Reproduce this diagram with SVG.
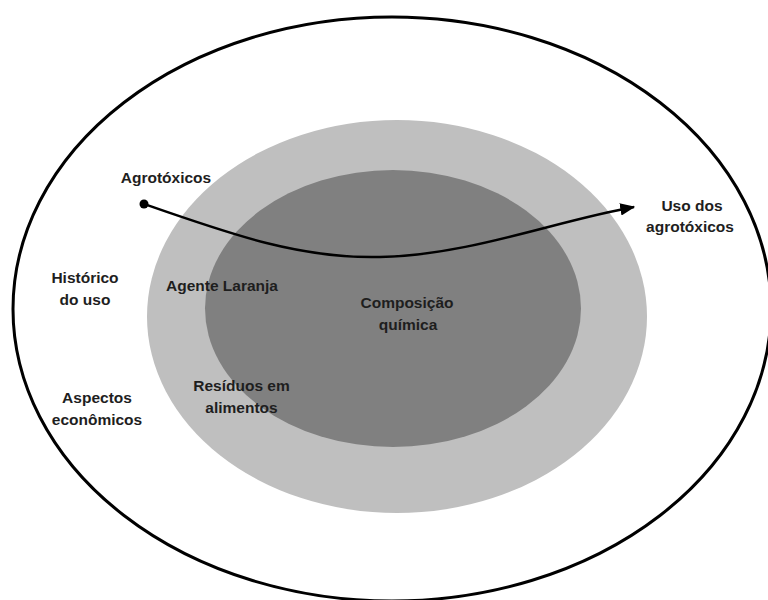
<svg xmlns="http://www.w3.org/2000/svg" width="768" height="600" viewBox="0 0 768 600">
  <style>
    .lbl { font-family: "Liberation Sans", Arial, sans-serif; font-weight: bold; font-size: 15.5px; fill: #1e1e1e; text-anchor: middle; }
    .outer { fill: #ffffff; stroke: #000000; stroke-width: 3; }
    .middle { fill: #bfbfbf; }
    .inner { fill: #808080; }
    .flow { fill: none; stroke: #000000; stroke-width: 2.5; }
  </style>
  <defs>
    <marker id="arrowhead" viewBox="0 0 12 10" refX="11" refY="5" markerWidth="6" markerHeight="5" markerUnits="strokeWidth" orient="auto">
      <path d="M0,0 L12,5 L0,10 z" fill="#000000"/>
    </marker>
  </defs>
  <rect width="768" height="600" fill="#ffffff"/>

  <!-- nested rings, drawn first so every label sits on top -->
  <g id="rings">
    <ellipse id="ring-outer" class="outer" cx="392" cy="309" rx="379" ry="292"/>
    <ellipse id="ring-middle" class="middle" cx="397" cy="316.5" rx="250" ry="196.5"/>
    <ellipse id="ring-core" class="inner" cx="393" cy="308.5" rx="188" ry="138.5"/>
  </g>

  <!-- outer ring labels -->
  <g id="node-historico">
    <text class="lbl" x="85" y="283">Histórico</text>
    <text class="lbl" x="85" y="305">do uso</text>
  </g>
  <g id="node-aspectos">
    <text class="lbl" x="97" y="403">Aspectos</text>
    <text class="lbl" x="97" y="425">econômicos</text>
  </g>

  <!-- middle ring labels -->
  <g id="node-agente">
    <text class="lbl" x="222" y="291">Agente Laranja</text>
  </g>
  <g id="node-residuos">
    <text class="lbl" x="241.5" y="391">Resíduos em</text>
    <text class="lbl" x="241.5" y="413">alimentos</text>
  </g>

  <!-- core label -->
  <g id="node-composicao">
    <text class="lbl" x="407" y="308">Composição</text>
    <text class="lbl" x="408" y="330">química</text>
  </g>

  <!-- start and end labels of the flow -->
  <g id="node-agrotoxicos">
    <text class="lbl" x="166" y="183">Agrotóxicos</text>
  </g>
  <g id="node-uso">
    <text class="lbl" x="692" y="211">Uso dos</text>
    <text class="lbl" x="690" y="232">agrotóxicos</text>
  </g>

  <!-- connector -->
  <g id="connectors">
    <circle cx="144" cy="204" r="4.5" fill="#000000"/>
    <path class="flow" d="M144,204 C230,234 300,259 380,257 C470,255 555,221 634,207" marker-end="url(#arrowhead)"/>
  </g>
</svg>
